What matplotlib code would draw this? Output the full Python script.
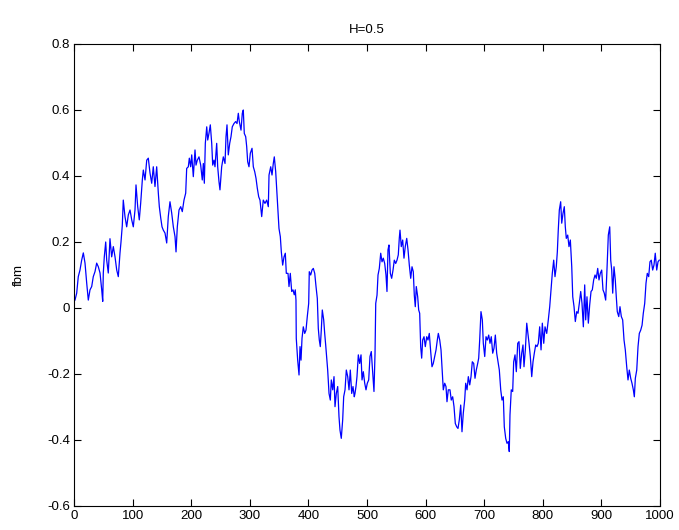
import matplotlib
import matplotlib.pyplot as plt

matplotlib.use('Agg')

# sample positions and fbm values
t = [1.7, 4.6, 7.3, 10.2, 13.1, 15.9, 18.8, 21.7, 24.4, 27.3, 30.2, 32.9, 35.8, 38.7, 41.5, 44.4,
     47.3, 49.0, 50.0, 51.7, 54.1, 55.8, 58.5, 61.4, 64.3, 67.1, 70.0, 72.9, 75.6, 78.5, 80.2, 82.4,
     84.1, 87.0, 89.9, 92.7, 95.6, 98.5, 101.2, 104.1, 105.8, 108.7, 111.4, 113.8, 116.6, 118.3,
     121.2, 124.1, 126.8, 129.7, 132.6, 135.3, 138.2, 141.1, 143.9, 145.6, 148.0, 150.2, 152.4,
     155.3, 158.2, 160.9, 163.8, 166.7, 169.5, 172.4, 174.1, 176.3, 179.2, 182.1, 184.8, 187.7,
     190.6, 192.3, 195.1, 196.8, 199.1, 200.9, 203.6, 206.5, 208.2, 210.4, 213.3, 216.2, 218.9,
     220.7, 222.4, 224.1, 226.5, 228.2, 230.4, 232.6, 235.0, 236.7, 238.9, 240.6, 243.5, 245.2,
     247.4, 249.1, 252.0, 254.8, 257.7, 259.4, 261.1, 263.3, 265.7, 267.9, 270.1, 273.0, 275.9,
     278.2, 280.4, 282.1, 285.0, 287.2, 288.9, 290.6, 293.0, 294.7, 296.4, 298.6, 300.9, 303.8,
     306.0, 308.4, 310.6, 312.8, 315.2,
     317.4, 320.3, 323.0, 325.9, 328.8, 331.6, 332.8, 335.7, 337.9, 340.1, 341.8, 344.2, 346.4,
     348.1, 349.8, 352.1, 353.8, 356.1, 358.4, 360.6, 362.3, 365.2, 366.9, 369.1, 371.5, 373.7,
     375.9, 377.6, 378.8, 379.3, 381.7, 384.0, 385.7, 387.4, 389.1, 391.3, 393.7, 395.9, 398.1,
     400.5, 401.5, 403.9, 406.1, 408.4, 410.8, 413.0, 415.2, 416.9, 418.6, 420.3, 422.0, 423.7,
     426.1, 427.8, 429.5, 431.2, 432.9, 435.2, 437.4, 439.1, 441.5, 443.7, 445.4, 447.6, 450.0,
     452.2, 453.9, 456.1, 458.5, 460.2, 462.5, 464.7, 467.1, 469.3, 471.5, 473.9, 476.1, 478.3,
     479.5, 481.2, 482.9, 485.2, 487.5, 489.8, 491.5, 493.7, 496.1, 498.3, 500.5, 502.9, 505.1,
     507.3, 509.7, 511.9, 513.7, 514.9, 517.1, 518.8, 521.0, 523.4, 525.6, 527.8, 530.2, 532.4,
     534.1, 535.8, 537.5, 539.8, 542.1, 544.4, 546.6, 549.0, 551.2, 553.4, 555.1, 556.3, 558.5,
     560.9, 563.1, 565.3, 567.8, 570.0, 572.2, 574.6, 576.8, 579.0, 580.7, 582.4, 584.1, 586.5,
     588.2, 589.9, 591.6, 593.3, 595.0, 597.3, 599.5, 601.9, 604.1, 606.3, 608.7, 610.9, 613.1,
     615.5, 617.8, 620.0, 621.7, 624.1, 626.3, 628.5, 630.2, 632.6, 634.8, 636.5, 638.7,
     641.6, 643.8, 646.2, 648.5, 650.7, 653.1, 655.3, 657.5, 659.9, 662.1, 664.3, 666.7, 668.4,
     670.7, 672.9, 675.3, 677.5, 679.7, 682.1, 684.3, 686.5, 688.9, 690.6, 692.3, 694.5, 696.8,
     698.5, 700.9, 703.1, 705.3, 707.7, 709.9, 712.1, 714.5, 716.7, 719.0, 721.3, 723.6, 725.8,
     728.2, 730.4, 732.6, 734.3, 736.7, 738.9, 741.1, 742.8, 744.0, 746.2, 748.6, 750.3, 752.6,
     754.8, 757.2, 759.4, 761.6, 764.0, 766.2, 767.9, 770.2, 772.6, 774.3, 776.5, 778.7, 781.1,
     783.3, 785.5, 787.9, 790.1, 792.3, 794.7, 797.0, 799.2, 801.6,
     803.8, 806.7, 809.4, 811.8, 814.0, 816.2, 818.6, 820.8, 823.0, 824.8, 826.4, 828.2, 830.5,
     832.3, 834.5, 836.7, 838.4, 840.1, 842.5, 844.7, 847.0, 849.4, 851.1, 853.3, 855.5, 857.9,
     860.1, 862.3, 864.7, 866.9, 869.2, 871.5, 873.2, 875.4, 877.7, 880.0, 882.3, 884.5, 886.8,
     889.1, 891.3, 893.7, 895.9, 898.1, 900.5, 902.7, 904.9, 907.3, 909.6, 911.8, 914.2, 915.9,
     917.6, 919.3, 921.5, 923.7, 925.4, 927.1, 929.6, 931.7, 934.0, 936.3, 938.6, 940.8, 943.2,
     945.4, 947.6, 950.0, 952.2, 954.5, 956.2, 957.9, 960.3, 962.5, 964.7, 967.1, 969.4, 971.5,
     973.9, 976.1, 978.3, 980.7, 982.9, 985.1, 987.5, 989.7, 991.9, 994.4, 996.6, 998.7]

fbm = [0.024, 0.045, 0.095, 0.115, 0.145, 0.167, 0.136, 0.075, 0.024, 0.055, 0.065, 0.095, 0.11,
       0.136, 0.125, 0.106, 0.055, 0.02, 0.106, 0.155, 0.2, 0.145, 0.106, 0.21, 0.155, 0.186, 0.155,
       0.115, 0.095, 0.167, 0.2, 0.25, 0.327, 0.277, 0.246, 0.282, 0.297, 0.267, 0.246, 0.297,
       0.373, 0.307, 0.267, 0.318, 0.388, 0.418, 0.388, 0.448, 0.454, 0.409, 0.378, 0.428, 0.368,
       0.428, 0.348, 0.307, 0.273, 0.246, 0.236,
       0.227, 0.197, 0.277, 0.322, 0.288, 0.246, 0.216, 0.17, 0.246, 0.297, 0.307, 0.292, 0.327,
       0.348, 0.423, 0.428, 0.454, 0.428, 0.464, 0.398, 0.479, 0.433, 0.448, 0.458, 0.433, 0.388,
       0.438, 0.378, 0.499, 0.549, 0.509, 0.53, 0.555, 0.499, 0.433, 0.448, 0.428, 0.499, 0.428,
       0.383, 0.358, 0.428, 0.458, 0.438, 0.519, 0.555, 0.464, 0.499, 0.519, 0.549, 0.559, 0.565,
       0.559, 0.59, 0.565, 0.539, 0.59, 0.6, 0.529, 0.519, 0.489, 0.443, 0.428, 0.469, 0.484,
       0.428, 0.413, 0.393, 0.363, 0.337,
       0.327, 0.277, 0.327, 0.317, 0.327, 0.307, 0.403, 0.428, 0.403, 0.438, 0.458, 0.413, 0.347,
       0.297, 0.241, 0.216, 0.17, 0.13, 0.155, 0.166, 0.105, 0.105, 0.065, 0.105, 0.05, 0.055,
       0.04, 0.055, 0.024, -0.092, -0.158, -0.203, -0.117, -0.158, -0.092, -0.057, -0.077, -0.067,
       -0.026, 0.014, 0.11, 0.1, 0.115, 0.12, 0.105, 0.065, 0.029, -0.062, -0.097, -0.117, -0.067,
       -0.006, -0.036, -0.077, -0.112, -0.152, -0.188, -0.259, -0.279, -0.218, -0.248, -0.208,
       -0.299, -0.259, -0.238, -0.329, -0.37, -0.395, -0.339, -0.269, -0.248, -0.188, -0.208,
       -0.248, -0.188, -0.259, -0.238, -0.269,
       -0.259, -0.238, -0.208, -0.142, -0.168, -0.142, -0.218, -0.193, -0.228, -0.248, -0.228,
       -0.218, -0.147, -0.132, -0.193, -0.253, -0.137, 0.014, 0.039, 0.1, 0.12, 0.166, 0.14, 0.151,
       0.135, 0.1, 0.05, 0.176, 0.191, 0.105, 0.09, 0.115, 0.145, 0.135, 0.145, 0.161, 0.211,
       0.236, 0.186, 0.206, 0.151, 0.186, 0.211, 0.176, 0.13, 0.09, 0.125, 0.11, 0.039, 0.004,
       0.065, 0.034, -0.006, -0.016, -0.117, -0.152, -0.097, -0.087, -0.117, -0.087, -0.097,
       -0.077, -0.132, -0.178, -0.168, -0.147, -0.127, -0.097, -0.077, -0.097, -0.127, -0.198,
       -0.248, -0.228, -0.238, -0.284, -0.248,
       -0.248, -0.279, -0.269, -0.299, -0.35, -0.36, -0.365, -0.339, -0.294, -0.375, -0.319,
       -0.279, -0.228, -0.248, -0.208, -0.233, -0.208, -0.163, -0.168, -0.213, -0.188, -0.168,
       -0.152, -0.097, -0.011, -0.036, -0.107, -0.147, -0.087, -0.097, -0.082, -0.107, -0.087,
       -0.137, -0.122, -0.082, -0.137, -0.163, -0.188, -0.248, -0.279, -0.269, -0.36, -0.395,
       -0.41, -0.405, -0.435, -0.324, -0.248, -0.253, -0.163, -0.142, -0.193, -0.107, -0.102,
       -0.183, -0.137, -0.112, -0.178, -0.127, -0.046, -0.072, -0.107, -0.147, -0.208, -0.163,
       -0.137, -0.112, -0.117, -0.107, -0.057, -0.127, -0.046, -0.107,
       -0.057, -0.077, -0.036, 0.004, 0.055, 0.105, 0.145, 0.095, 0.125, 0.17, 0.236, 0.297, 0.322,
       0.257, 0.287, 0.307, 0.246, 0.211, 0.221, 0.186, 0.206, 0.125, 0.034, 0.004, -0.041, -0.011,
       -0.016, 0.014, 0.05, 0.014, -0.057, 0.07, -0.036, 0.034, -0.046, 0.009, 0.05, 0.055, 0.085,
       0.1, 0.09, 0.12, 0.085, 0.105, 0.115, 0.055, 0.045, 0.024, 0.12, 0.221, 0.246, 0.145,
       0.115, 0.045, 0.125, 0.085, 0.034, -0.011, -0.026, 0.004, -0.026, -0.036, -0.097, -0.127,
       -0.178, -0.218, -0.188, -0.213, -0.228, -0.248, -0.269, -0.213, -0.188, -0.117, -0.077,
       -0.067, -0.052, -0.016, 0.014, 0.075, 0.105, 0.095, 0.14, 0.145, 0.115, 0.13, 0.166, 0.115,
       0.14, 0.145]

x_ticks = [0, 100, 200, 300, 400, 500, 600, 700, 800, 900, 1000]
y_ticks = [-0.6, -0.4, -0.2, 0, 0.2, 0.4, 0.6, 0.8]
y_labels = ['-0.6', '-0.4', '-0.2', '0', '0.2', '0.4', '0.6', '0.8']

plt.rcParams['font.family'] = ['Liberation Sans', 'DejaVu Sans']

fig = plt.figure(figsize=(6.79, 5.30), dpi=100)
ax = fig.add_axes([74 / 679, 24 / 530, 586 / 679, 462 / 530])
ax.plot(t, fbm, color='#0000ff', linewidth=0.9)

ax.set_xlim(0, 1000)
ax.set_ylim(-0.6, 0.8)
ax.set_xticks(x_ticks)
ax.set_yticks(y_ticks)
ax.set_yticklabels(y_labels)
ax.tick_params(direction='in', length=5, width=0.8, labelsize=9.5, top=True, right=True, pad=3)
for s in ax.spines.values():
    s.set_linewidth(0.8)

ax.set_title('H=0.5', fontsize=9.5, pad=8)
ax.set_ylabel('fbm', fontsize=9.5, labelpad=16)

plt.savefig('out.png', dpi=100)
plt.close()
